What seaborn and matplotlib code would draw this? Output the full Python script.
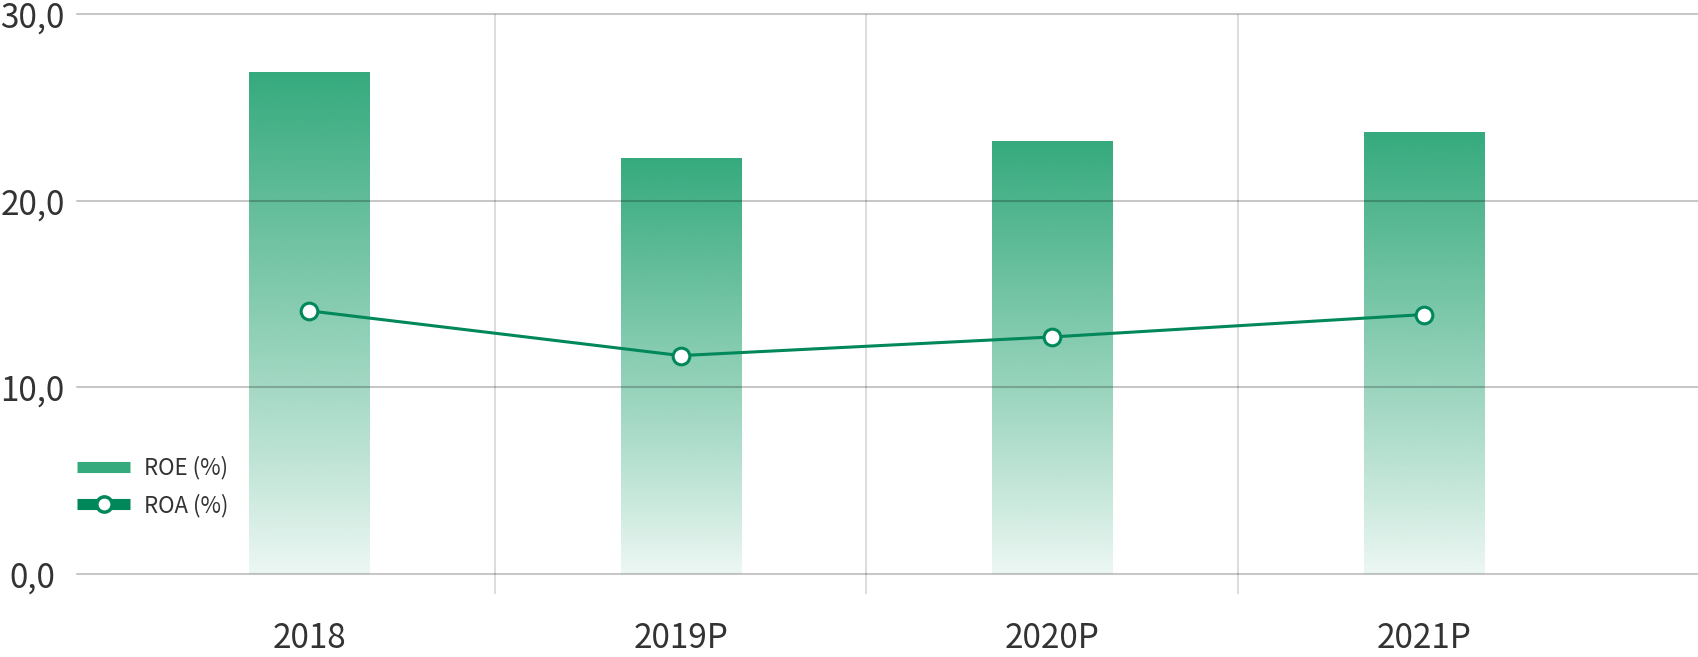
import matplotlib
matplotlib.use("Agg")
import matplotlib.pyplot as plt
import numpy as np
import pandas as pd
import seaborn as sns
from matplotlib.lines import Line2D
from matplotlib.colors import to_rgb

# data
years = ["2018", "2019P", "2020P", "2021P"]
roe = [26.9, 22.3, 23.2, 23.7]
roa = [14.1, 11.7, 12.7, 13.9]
yticks = [0, 10, 20, 30]
ytick_labels = ["0,0", "10,0", "20,0", "30,0"]

bar_green = "#35aa7d"
line_green = "#00875a"

sns.set_theme(style="white")
plt.rcParams['font.family'] = ['Noto Sans CJK KR', 'DejaVu Sans']

W, H = 1698, 657
fig = plt.figure(figsize=(W / 100, H / 100), dpi=100)
ax = fig.add_axes([77 / W, (H - 574) / H, 1 - 77 / W, (574 - 14) / H])

df = pd.DataFrame({"year": years, "ROE": roe, "ROA": roa})
sns.barplot(data=df, x="year", y="ROE", color=bar_green, width=0.323,
            saturation=1, ax=ax, zorder=2)

# gradient fill for every bar, clipped to the bar shape
rgb = np.array(to_rgb(bar_green))
for patch in ax.patches:
    x0, y0 = patch.get_x(), patch.get_y()
    w, h = patch.get_width(), patch.get_height()
    grad = np.zeros((256, 1, 4))
    grad[:, 0, :3] = rgb
    grad[:, 0, 3] = np.linspace(1.0, 0.07, 256) ** 0.9
    im = ax.imshow(grad, extent=[x0, x0 + w, y0, y0 + h], aspect="auto",
                   origin="upper", zorder=2, interpolation="bicubic")
    im.set_clip_path(patch)
    patch.set_facecolor("none")
    patch.set_edgecolor("none")

sns.lineplot(x=np.arange(len(years)), y=roa, ax=ax, color=line_green,
             linewidth=2.2, marker="o", markersize=12, markerfacecolor="white",
             markeredgecolor=line_green, markeredgewidth=2.2, zorder=5)

ax.set_ylim(0, 30)
ax.set_xlim(-0.624, 3.737)

# horizontal grid drawn over the bars so it darkens them
for v in yticks:
    ax.axhline(v, color="black", alpha=0.22, linewidth=1.5, zorder=3, clip_on=False)
# vertical separators that run below the zero line
ax.vlines([0.5, 1.5, 2.5], -1.05, 30, colors="black", alpha=0.15,
          linewidth=1.3, zorder=1, clip_on=False)

ax.set_yticks(yticks)
ax.set_yticklabels(ytick_labels)
ax.set_xticks(range(len(years)))
ax.set_xticklabels(years)
ax.set_xlabel("")
ax.set_ylabel("")
ax.tick_params(axis="both", length=0, labelsize=24, colors="#333333")
ax.tick_params(axis="y", pad=32)
ax.tick_params(axis="x", pad=34)
for lab in ax.get_yticklabels():
    lab.set_horizontalalignment("center")
sns.despine(ax=ax, left=True, bottom=True)

handles = [
    Line2D([], [], color=bar_green, linewidth=8, solid_capstyle="butt"),
    Line2D([], [], color=line_green, linewidth=8, solid_capstyle="butt",
           marker="o", markersize=11, markerfacecolor="white",
           markeredgecolor=line_green, markeredgewidth=2.5),
]
leg = ax.legend(handles, ["ROE (%)", "ROA (%)"], loc="upper left",
                bbox_to_anchor=(77 / W, (H - 456) / H), bbox_transform=fig.transFigure,
                frameon=False, fontsize=16, handlelength=2.4, handletextpad=0.6,
                labelspacing=0.62, borderpad=0, borderaxespad=0)
for t in leg.get_texts():
    t.set_color("#333333")

fig.savefig("out.png", dpi=100)
